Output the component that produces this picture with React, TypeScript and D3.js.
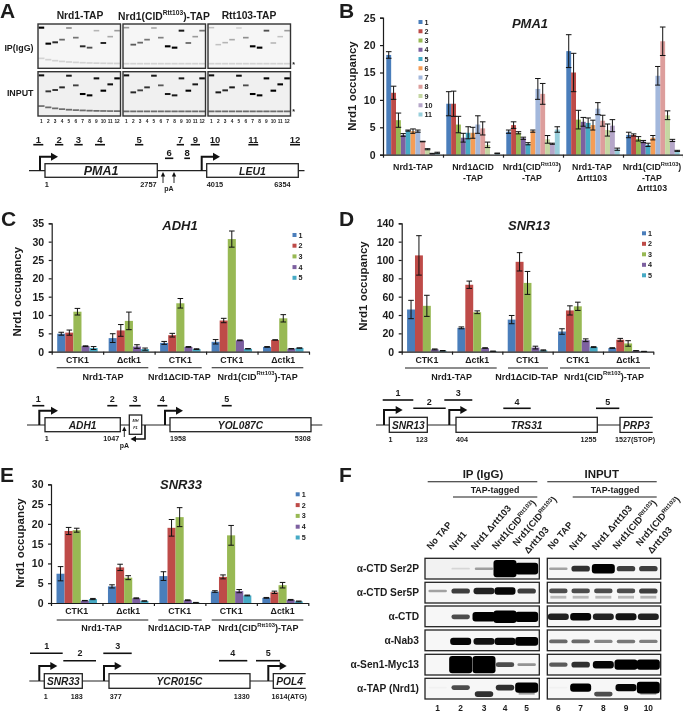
import React, { useEffect, useRef } from "react";
import * as d3 from "d3";

const FONT = "'Liberation Sans', Arial, sans-serif";
const INK = "#1c1c1c";

// bar colours (Excel palette)
const barColors = ["#4a7ebb", "#be4b48", "#98b954", "#7d60a0", "#46aac5", "#f59d56", "#a3b8dc", "#dd9e9c", "#c5d7a2", "#b5a6c9", "#98cfdc"];

// ---- PMA1 ----
const pma1Sites = ["1", "2", "3", "4", "5", "6", "7", "8", "9", "10", "11"];
const pma1Values = [
  [18.2, 11.3, 6.3, 3.6, 4.4, 4.3, 4.3, 2.4, 1.0, 0.2, 0.35],
  [9.3, 9.3, 5.5, 3.1, 4.0, 4.0, 5.5, 4.8, 1.8, 0, 0.25],
  [4.2, 5.4, 4.0, 3.0, 2.0, 4.3, 12.0, 11.1, 2.8, 2.0, 4.6],
  [18.9, 15.0, 6.4, 6.0, 5.8, 5.4, 8.4, 6.2, 4.5, 5.3, 1.0],
  [3.6, 3.6, 2.9, 2.4, 1.8, 3.1, 14.4, 20.7, 7.2, 2.6, 0.7],
];
const pma1Errors = [
  [0.6, 1.2, 1.3, 0.25, 0.1, 0.4, 0.2, 0.05, 0.1, 0.05, 0.1],
  [2.2, 2.3, 1.5, 0.8, 1.1, 1.0, 1.6, 1.2, 0.5, 0, 0.05],
  [0.3, 0.6, 0.2, 0.2, 0.2, 0.2, 1.9, 1.9, 0.7, 0.1, 0.5],
  [3.0, 3.5, 1.7, 0.8, 0.9, 0.9, 1.1, 1.0, 1.1, 1.1, 0.2],
  [0.5, 0.2, 0.4, 0.2, 0.3, 0.4, 1.7, 2.6, 0.8, 0.2, 0.1],
];
const pma1Ticks = [0, 5, 10, 15, 20, 25];

// ---- ADH1 ----
const fiveSites = ["1", "2", "3", "4", "5"];
const ctkLabels = ["CTK1", "\u0394ctk1", "CTK1", "CTK1", "\u0394ctk1"];
const adh1Values = [
  [4.9, 5.2, 10.9, 1.5, 1.0],
  [3.7, 5.8, 8.4, 1.4, 0.7],
  [2.4, 4.5, 13.2, 1.3, 0.7],
  [2.7, 8.5, 30.7, 3.1, 0.8],
  [1.3, 3.2, 9.1, 0.8, 1.0],
];
const adh1Errors = [
  [0.4, 0.7, 0.9, 0.1, 0.4],
  [1.2, 1.6, 2.4, 0.5, 0.3],
  [0.4, 0.5, 1.3, 0.1, 0.1],
  [0.6, 0.6, 2.2, 0.1, 0.05],
  [0.1, 0.05, 1.0, 0.05, 0.05],
];
const adh1Ticks = [0, 5, 10, 15, 20, 25, 30, 35];

// ---- SNR13 ----
const snr13Values = [
  [46, 105, 50, 2.5, 1],
  [26, 73, 43, 4, 0.5],
  [35, 98, 75, 4.5, 1.5],
  [22, 45, 49.5, 12.5, 5],
  [4, 13, 9, 1, 0.3],
];
const snr13Errors = [
  [10, 21.5, 11.5, 0.5, 0.3],
  [1, 4, 1.5, 0.3, 0.1],
  [4.5, 10, 12.5, 1.5, 0.5],
  [3, 5, 4.5, 1.5, 0.5],
  [0.3, 1.5, 3, 0.1, 0.1],
];
const snr13Ticks = [0, 20, 40, 60, 80, 100, 120, 140];

// ---- SNR33 ----
const snr33Values = [
  [7.4, 18.2, 18.4, 0.6, 1.0],
  [4.2, 9.0, 6.4, 1.2, 0.5],
  [6.8, 19.0, 21.7, 0.7, 0.1],
  [2.9, 6.6, 17.1, 3.0, 1.9],
  [1.3, 2.7, 4.5, 0.8, 0.4],
];
const snr33Errors = [
  [1.8, 0.9, 0.5, 0.05, 0.15],
  [0.4, 0.8, 0.5, 0.1, 0.05],
  [1.1, 2.1, 2.4, 0.1, 0.05],
  [0.2, 0.5, 2.5, 0.4, 0.1],
  [0.1, 0.3, 0.7, 0.1, 0.1],
];
const snr33Ticks = [0, 5, 10, 15, 20, 25, 30];

// ---- gels in panel A: band migration per lane and strength per gel ----
const gelLanes = ["1", "2", "3", "4", "5", "6", "7", "8", "9", "10", "11", "12"];
const bandDepth = [11, 59, 55, 47, 12, 41, 67, 71, 20, 57, 38, 20];
const gelTitles = ["Nrd1-TAP", "", "Rtt103-TAP"];
const ipStrength = [
  [1, 0.95, 0.8, 0.55, 0.4, 0.5, 0.8, 0.65, 0.25, 0.8, 0.3, 0.35],
  [0.35, 0.6, 0.55, 0.5, 0.3, 0.45, 1, 1, 0.85, 0.55, 0.35, 0.5],
  [0.2, 0.2, 0.25, 0.3, 0.15, 0.4, 1, 1, 0.65, 0.25, 0.2, 0.35],
];
const inputStrength = [
  [0.9, 0.75, 0.75, 0.8, 0.85, 0.7, 0.95, 0.95, 0.9, 1, 0.9, 0.95],
  [0.9, 0.8, 0.7, 0.75, 0.85, 0.6, 0.85, 0.85, 0.85, 0.95, 0.85, 0.9],
  [0.9, 0.85, 0.8, 0.85, 0.9, 0.65, 0.95, 0.95, 0.95, 1, 0.95, 0.95],
];

// ---- blots in panel F (rows by lane) ----
const blotLabels = ["\u03b1-CTD Ser2P", "\u03b1-CTD Ser5P", "\u03b1-CTD", "\u03b1-Nab3", "\u03b1-Sen1-Myc13", "\u03b1-TAP (Nrd1)"];
const blotIp = [
  [0, 0.1, 0.3, 1.45, 1.15],
  [0.3, 0.65, 0.75, 0.85, 0.65],
  [0, 0.6, 1.0, 1.2, 1.05],
  [0, 0.85, 0.8, 0.85, 0.95],
  [0, 1.45, 1.45, 0.6, 0.35],
  [0.02, 0.6, 0.7, 0.7, 1.05],
];
const blotInput = [
  [0.3, 0.7, 1.0, 0.65, 0.65],
  [0.6, 0.6, 0.6, 0.6, 0.65],
  [0.75, 0.85, 0.75, 0.8, 0.75],
  [0.5, 0.5, 0.4, 0.45, 0.42],
  [0.55, 0.7, 0.85, 1.05, 1.05],
  [0.02, 0.9, 0.6, 0.85, 1.15],
];
const blotCenters = [0.5, 0.42, 0.52, 0.55, 0.5, 0.45];
const blotLanesIp = ["1", "2", "3", "4", "5"];
const blotLanesInput = ["6", "7", "8", "9", "10"];

type Sel = d3.Selection<any, any, any, any>;

function label(g: Sel, x: number, y: number, s: string, size: number, anchor = "middle", extra = "") {
  return g
    .append("text")
    .attr("x", x)
    .attr("y", y)
    .attr("text-anchor", anchor)
    .attr("dominant-baseline", "central")
    .style("font-family", FONT)
    .style("font-weight", "bold")
    .style("font-style", extra)
    .style("font-size", size + "px")
    .style("fill", INK)
    .text(s);
}

// Nrd1(CID^Rtt103) style text with a raised part
function supLabel(t: Sel, before: string, sup: string, after: string, size: number) {
  t.text(null);
  t.append("tspan").text(before);
  t.append("tspan").attr("dy", -size * 0.35).style("font-size", size * 0.65 + "px").text(sup);
  t.append("tspan").attr("dy", size * 0.35).text(after);
}

function barPanel(
  svg: Sel,
  opt: {
    x0: number; x1: number; y0: number; y1: number; max: number;
    ticks: number[]; values: number[][]; errors: number[][]; sites: string[];
    title: string; titleX: number; titleY: number;
    yLabelX: number; yLabelY: number;
    legendX: number; legendY: number; legendStep: number; colLabels?: string[];
  }
) {
  const groupIdx = d3.range(opt.values.length);
  const group = d3.scaleBand<number>().domain(groupIdx).range([opt.x0, opt.x1]);
  const bar = d3
    .scaleBand<string>()
    .domain(opt.sites)
    .range([0, group.bandwidth()])
    .paddingInner(0)
    .paddingOuter(0.68);
  const y = d3.scaleLinear().domain([0, opt.max]).range([opt.y0, opt.y1]);

  const g = svg.append("g");

  opt.values.forEach((vals, gi) => {
    vals.forEach((v, si) => {
      const site = opt.sites[si];
      const cx = group(gi)! + bar(site)! + bar.bandwidth() / 2;
      if (v > 0) {
        g.append("rect")
          .attr("x", group(gi)! + bar(site)!)
          .attr("width", bar.bandwidth())
          .attr("y", y(v))
          .attr("height", y(0) - y(v))
          .attr("fill", barColors[si]);
      }
      const e = opt.errors[gi][si];
      if (v > 0 && e > 0) {
        const capW = Math.min(bar.bandwidth() * 0.72, 2.8);
        g.append("path")
          .attr("d", `M${cx},${y(v + e)}V${y(Math.max(v - e, 0))}M${cx - capW},${y(v + e)}h${capW * 2}M${cx - capW},${y(Math.max(v - e, 0))}h${capW * 2}`)
          .attr("fill", "none")
          .attr("stroke", "#111")
          .attr("stroke-width", 1);
      }
    });
  });

  // y axis
  const yAxis = g
    .append("g")
    .attr("transform", `translate(${opt.x0},0)`)
    .call(d3.axisLeft(y).tickValues(opt.ticks).tickSize(3).tickPadding(4.5));
  yAxis.selectAll("text").style("font-family", FONT).style("font-weight", "bold").style("font-size", "10.5px").style("fill", INK);
  yAxis.selectAll("line,path").style("stroke", INK).style("stroke-width", "1.2");

  // x axis: ticks at group borders
  const borders = d3.scaleLinear().domain([0, opt.values.length]).range([opt.x0, opt.x1]);
  const xAxis = g
    .append("g")
    .attr("transform", `translate(0,${opt.y0})`)
    .call(
      d3.axisBottom(borders)
        .tickValues(d3.range(opt.values.length + 1))
        .tickSize(3)
        .tickSizeOuter(0)
        .tickFormat(() => "")
    );
  xAxis.selectAll("line,path").style("stroke", INK).style("stroke-width", "1.2");

  // group tick labels
  if (opt.colLabels) {
    const labs = opt.colLabels;
    const xLab = g
      .append("g")
      .attr("transform", `translate(0,${opt.y0})`)
      .call(d3.axisBottom(group).tickSize(0).tickPadding(5).tickFormat((d) => labs[d as number]));
    xLab.select(".domain").remove();
    xLab.selectAll("text").style("font-family", FONT).style("font-weight", "bold").style("font-size", "8.8px").style("fill", INK);
  }

  // title
  label(g, opt.titleX, opt.titleY, opt.title, 13, "middle", "italic");

  // y label
  g.append("text")
    .attr("transform", `translate(${opt.yLabelX},${opt.yLabelY}) rotate(-90)`)
    .attr("text-anchor", "middle")
    .attr("dominant-baseline", "central")
    .style("font-family", FONT)
    .style("font-weight", "bold")
    .style("font-size", "11.5px")
    .style("fill", INK)
    .text("Nrd1 occupancy");

  // legend
  opt.sites.forEach((s, i) => {
    const ly = opt.legendY + i * opt.legendStep;
    g.append("rect").attr("x", opt.legendX - 2).attr("y", ly - 2).attr("width", 4).attr("height", 4).attr("fill", barColors[i]);
    label(g, opt.legendX + 4, ly, s, 7.2, "start");
  });
}

function strainLabels(svg: Sel, lines: [number, number][], centers: number[], lineY: number, textY: number) {
  lines.forEach(([a, b]) => {
    svg.append("line").attr("x1", a).attr("x2", b).attr("y1", lineY).attr("y2", lineY).attr("stroke", INK).attr("stroke-width", 1.1);
  });
  label(svg, centers[0], textY, "Nrd1-TAP", 9);
  label(svg, centers[1], textY, "Nrd1\u0394CID-TAP", 9);
  supLabel(label(svg, centers[2], textY, "", 9), "Nrd1(CID", "Rtt103", ")-TAP", 9);
}

// gene diagram pieces
function backbone(g: Sel, x1: number, x2: number, y: number) {
  g.append("line").attr("x1", x1).attr("x2", x2).attr("y1", y).attr("y2", y).attr("stroke", "#222").attr("stroke-width", 1.2);
}
function geneBox(g: Sel, x1: number, x2: number, y1: number, y2: number, name: string, size = 10.2, open = false) {
  if (open) {
    g.append("rect").attr("x", x1).attr("y", y1).attr("width", x2 - x1).attr("height", y2 - y1).attr("fill", "#fff");
    g.append("path").attr("d", `M${x2},${y1}H${x1}V${y2}H${x2}`).attr("fill", "none").attr("stroke", "#222").attr("stroke-width", 1.3);
  } else {
    g.append("rect").attr("x", x1).attr("y", y1).attr("width", x2 - x1).attr("height", y2 - y1).attr("fill", "#fff").attr("stroke", "#222").attr("stroke-width", 1.3);
  }
  if (name) label(g, (x1 + x2) / 2, (y1 + y2) / 2 + 0.3, name, size, "middle", "italic");
}
function promoter(g: Sel, x: number, yBase: number, yTop: number, xEnd: number) {
  g.append("path").attr("d", `M${x},${yBase}V${yTop}H${xEnd - 5}`).attr("fill", "none").attr("stroke", "#111").attr("stroke-width", 2);
  g.append("path").attr("d", `M${xEnd - 7},${yTop - 4}L${xEnd},${yTop}L${xEnd - 7},${yTop + 4}Z`).attr("fill", "#111");
}
function primer(g: Sel, x1: number, x2: number, y: number, name: string, ly: number, lx?: number, size = 9) {
  g.append("line").attr("x1", x1).attr("x2", x2).attr("y1", y).attr("y2", y).attr("stroke", "#111").attr("stroke-width", 1.6);
  label(g, lx ?? (x1 + x2) / 2, ly, name, size);
}
function upArrow(g: Sel, x: number, y1: number, y2: number) {
  g.append("line").attr("x1", x).attr("x2", x).attr("y1", y1).attr("y2", y2 + 3).attr("stroke", "#111").attr("stroke-width", 0.9);
  g.append("path").attr("d", `M${x - 2.2},${y2 + 4.5}L${x},${y2}L${x + 2.2},${y2 + 4.5}Z`).attr("fill", "#111");
}

function App() {
  const svgRef = useRef<SVGSVGElement | null>(null);

  useEffect(() => {
    const svg = d3.select(svgRef.current);
    svg.selectAll("*").remove();
    svg.attr("width", 683).attr("height", 712);

    const defs = svg.append("defs");
    defs.append("filter").attr("id", "soft").attr("x", "-30%").attr("y", "-60%").attr("width", "160%").attr("height", "220%")
      .append("feGaussianBlur").attr("stdDeviation", 0.6);

    // panel letters
    const letters: [string, number, number][] = [["A", 0, 10.5], ["B", 339, 10.5], ["C", 1, 218], ["D", 339, 218], ["E", 0, 474], ["F", 339, 474]];
    letters.forEach(([s, x, y]) => label(svg, x, y, s, 21, "start"));

    // ---------- A: gels ----------
    const gelXs = [38, 123, 208];
    const gelW = 82.5;
    const rows = [
      { top: 24, strength: ipStrength, tailOp: 0.14 },
      { top: 71.7, strength: inputStrength, tailOp: 0.6 },
    ];
    const depth = d3.scaleLinear().domain([0, 133]).range([0, 44.3]);
    gelXs.forEach((gx, gi) => {
      const lane = d3.scalePoint<string>().domain(gelLanes).range([gx + 3.4, gx + gelW - 3.4]);
      rows.forEach((r, ri) => {
        const gg = svg.append("g");
        gg.append("rect").attr("x", gx).attr("y", r.top).attr("width", gelW).attr("height", 44.3).attr("fill", ri === 0 ? "#f6f6f6" : "#f0f0f0");
        const bands = gg.append("g").attr("filter", "url(#soft)");
        gelLanes.forEach((l, i) => {
          const k = r.strength[gi][i];
          const yOff = gi === 0 ? 0 : i === 1 ? 3 : i === 2 ? 1 : 0;
          bands.append("rect")
            .attr("x", lane(l)! - 2.8)
            .attr("width", 5.6)
            .attr("y", r.top + depth(bandDepth[i] + yOff) - 0.7 - k * 0.35)
            .attr("height", 1.4 + k * 0.7)
            .attr("fill", "#000")
            .attr("opacity", Math.min(1, k * 1.05));
          // free primer band at the bottom, slanted on the first gel
          const tail = gi === 0 ? 103 + 16 * (1 - Math.exp(-i / 3.5)) : 119;
          bands.append("rect")
            .attr("x", lane(l)! - 3.1)
            .attr("width", 6.2)
            .attr("y", r.top + depth(tail) - 0.8)
            .attr("height", 1.7)
            .attr("fill", "#111")
            .attr("opacity", r.tailOp);
        });
        gg.append("rect").attr("x", gx).attr("y", r.top).attr("width", gelW).attr("height", 44.3).attr("fill", "none").attr("stroke", "#333").attr("stroke-width", 1.4);
      });
      gelLanes.forEach((l) => label(svg, lane(l)!, 121.3, l, 4.8));
      if (gelTitles[gi]) label(svg, gi === 0 ? 80 : 249, 15.5, gelTitles[gi], 10.3);
    });
    supLabel(label(svg, 164, 15.5, "", 10.3), "Nrd1(CID", "Rtt103", ")-TAP", 10.3);
    label(svg, 33.5, 47.5, "IP(IgG)", 8.9, "end");
    label(svg, 33.5, 92.5, "INPUT", 8.9, "end");
    label(svg, 293.5, 64, "*", 7);
    label(svg, 293.5, 111.5, "*", 7);

    // A: diagram
    const da = svg.append("g");
    backbone(da, 29, 304.5, 170.7);
    geneBox(da, 45, 157.3, 163.7, 177.3, "PMA1", 12.5);
    geneBox(da, 206.7, 298.3, 163.7, 177.3, "LEU1", 10.5);
    promoter(da, 40, 170.7, 156.7, 58);
    promoter(da, 201.7, 170.7, 156.7, 220);
    upArrow(da, 163, 183, 172);
    upArrow(da, 174, 183, 172);
    label(da, 169, 188.5, "pA", 7);
    label(da, 46.7, 184, "1", 7.4);
    label(da, 156.7, 184, "2757", 7.4, "end");
    label(da, 206.7, 184, "4015", 7.4, "start");
    label(da, 290.7, 184, "6354", 7.4, "end");
    const aTop: [number, number, string][] = [[33.3, 43.3, "1"], [55, 63.3, "2"], [74.3, 82.7, "3"], [95, 105, "4"], [135, 143.3, "5"], [176.7, 184, "7"], [190.7, 200, "9"], [210.7, 219.3, "10"], [248.3, 258.3, "11"], [290, 300, "12"]];
    aTop.forEach(([a, b, n]) => primer(da, a, b, 144.7, n, 139.3, undefined, 9.5));
    primer(da, 165, 173.3, 158.3, "6", 152.3, undefined, 9.5);
    primer(da, 184.3, 190, 158.3, "8", 152.3, undefined, 9.5);

    // ---------- B: PMA1 ----------
    barPanel(svg, {
      x0: 383, x1: 683, y0: 154.7, y1: 17.7, max: 25, ticks: pma1Ticks,
      values: pma1Values, errors: pma1Errors, sites: pma1Sites,
      title: "PMA1", titleX: 530, titleY: 23.5, yLabelX: 351.7, yLabelY: 86,
      legendX: 420.5, legendY: 22, legendStep: 9.25,
    });
    label(svg, 413, 167, "Nrd1-TAP", 8.8);
    label(svg, 473, 167, "Nrd1\u0394CID", 8.8);
    label(svg, 473, 177.5, "-TAP", 8.8);
    supLabel(label(svg, 532, 167, "", 8.8), "Nrd1(CID", "Rtt103", ")", 8.8);
    label(svg, 532, 177.5, "-TAP", 8.8);
    label(svg, 592, 167, "Nrd1-TAP", 8.8);
    label(svg, 592, 177.5, "\u0394rtt103", 8.8);
    supLabel(label(svg, 652, 167, "", 8.8), "Nrd1(CID", "Rtt103", ")", 8.8);
    label(svg, 652, 177.5, "-TAP", 8.8);
    label(svg, 652, 188, "\u0394rtt103", 8.8);

    // ---------- C: ADH1 ----------
    barPanel(svg, {
      x0: 51.7, x1: 309, y0: 351.7, y1: 223.3, max: 35, ticks: adh1Ticks,
      values: adh1Values, errors: adh1Errors, sites: fiveSites,
      title: "ADH1", titleX: 180, titleY: 225.7, yLabelX: 16.7, yLabelY: 291.7,
      legendX: 294.5, legendY: 235, legendStep: 10.7, colLabels: ctkLabels,
    });
    strainLabels(svg, [[56.7, 148.3], [158.3, 201.7], [211.7, 303.3]], [103, 179.3, 257.7], 367.7, 376.5);
    const dc = svg.append("g");
    backbone(dc, 27, 322.3, 425);
    geneBox(dc, 45, 120.3, 417.7, 431.7, "ADH1");
    geneBox(dc, 170, 311, 417.7, 431.7, "YOL087C");
    geneBox(dc, 129.3, 141.7, 415, 434.3, "", 4);
    label(dc, 135.5, 421, "MH", 3.8, "middle", "italic");
    label(dc, 135.5, 428, "F1", 3.8, "middle", "italic");
    dc.append("path").attr("d", "M145,425V439H135").attr("fill", "none").attr("stroke", "#111").attr("stroke-width", 1.6);
    dc.append("path").attr("d", "M136,436L130.5,439L136,442Z").attr("fill", "#111");
    promoter(dc, 39.3, 425, 410.7, 58);
    promoter(dc, 165, 425, 410.7, 183);
    upArrow(dc, 124.3, 437, 426.5);
    label(dc, 124.3, 445.7, "pA", 7);
    label(dc, 46.7, 438, "1", 7.2);
    label(dc, 119.3, 438, "1047", 7.2, "end");
    label(dc, 170, 438, "1958", 7.2, "start");
    label(dc, 310.7, 438, "5308", 7.2, "end");
    const cTop: [number, number, string][] = [[32.3, 44.3, "1"], [107.3, 117.3, "2"], [129.3, 140.7, "3"], [157.3, 167.3, "4"], [221.7, 231.7, "5"]];
    cTop.forEach(([a, b, n]) => primer(dc, a, b, 405.7, n, 399));

    // ---------- D: SNR13 ----------
    barPanel(svg, {
      x0: 401.7, x1: 653.3, y0: 351.7, y1: 223.3, max: 140, ticks: snr13Ticks,
      values: snr13Values, errors: snr13Errors, sites: fiveSites,
      title: "SNR13", titleX: 529, titleY: 225, yLabelX: 363, yLabelY: 286,
      legendX: 644, legendY: 233.3, legendStep: 10.5, colLabels: ctkLabels,
    });
    strainLabels(svg, [[405, 496.7], [508, 548], [560, 650]], [451.7, 526.7, 604], 368, 376.5);
    const dd = svg.append("g");
    backbone(dd, 376, 620, 425);
    geneBox(dd, 389.3, 427.3, 417.3, 432.3, "SNR13");
    geneBox(dd, 456, 597.3, 417.3, 432.3, "TRS31");
    geneBox(dd, 620, 652.7, 417.3, 432.3, "PRP3", 10.2, true);
    promoter(dd, 384, 425, 410, 402.7);
    promoter(dd, 449.3, 425, 410, 467.3);
    label(dd, 390.5, 439, "1", 7.2);
    label(dd, 421.7, 439, "123", 7.2);
    label(dd, 462, 439, "404", 7.2);
    label(dd, 588.5, 439, "1255", 7.2);
    label(dd, 635, 439, "1527(STOP)", 7.2);
    primer(dd, 382.7, 413.3, 400, "1", 393);
    primer(dd, 413.3, 445.7, 408.3, "2", 402.3, 429.3);
    primer(dd, 444.3, 472.3, 400, "3", 393);
    primer(dd, 503.3, 530.7, 408.3, "4", 402.3);
    primer(dd, 596, 619.3, 408.3, "5", 402.3, 607.7);

    // ---------- E: SNR33 ----------
    barPanel(svg, {
      x0: 51, x1: 308.3, y0: 603, y1: 484.3, max: 30, ticks: snr33Ticks,
      values: snr33Values, errors: snr33Errors, sites: fiveSites,
      title: "SNR33", titleX: 181, titleY: 484.3, yLabelX: 20, yLabelY: 543,
      legendX: 297.7, legendY: 494.3, legendStep: 10.8, colLabels: ctkLabels,
    });
    strainLabels(svg, [[56.7, 148.3], [158.3, 201.7], [211.7, 303.3]], [101.7, 179.3, 258.3], 620, 628);
    const de = svg.append("g");
    backbone(de, 29.3, 273.3, 681);
    geneBox(de, 44.3, 82.3, 673.7, 688.3, "SNR33");
    geneBox(de, 109, 250, 673.7, 688.3, "YCR015C");
    geneBox(de, 273.3, 305.7, 673.7, 688.3, "POL4", 10.2, true);
    promoter(de, 39.3, 681, 666, 57.3);
    promoter(de, 104, 681, 666, 121.7);
    promoter(de, 268.3, 681, 666, 286.7);
    label(de, 45.7, 696.7, "1", 7.2);
    label(de, 76.7, 696.7, "183", 7.2);
    label(de, 115.7, 696.7, "377", 7.2);
    label(de, 241.7, 696.7, "1330", 7.2);
    label(de, 289.3, 696.7, "1614(ATG)", 7.2);
    primer(de, 30, 62.7, 653.3, "1", 645.7, 46.7);
    primer(de, 63.3, 96, 660.7, "2", 653, 80);
    primer(de, 103.3, 131.7, 653.3, "3", 645.7, 117.7);
    primer(de, 219, 247.3, 660.7, "4", 653, 232.7);
    primer(de, 256, 280, 660.7, "5", 653, 268.3);

    // ---------- F: blots ----------
    const rowTops = [558.3, 582.3, 606, 630, 654.3, 678.3];
    const rowH = 20.7;
    const columns = [
      { x0: 425, x1: 539.3, centers: [293, 362, 432, 495, 560], values: blotIp, lanes: blotLanesIp },
      { x0: 547.3, x1: 660.7, centers: [655, 722, 790, 858, 925], values: blotInput, lanes: blotLanesInput },
    ];
    columns.forEach((col, ci) => {
      const laneX = d3.scaleOrdinal<string, number>().domain(col.lanes).range(col.centers.map((c) => 340 + c / 3));
      rowTops.forEach((top, ri) => {
        const clipId = `blot-${ci}-${ri}`;
        defs.append("clipPath").attr("id", clipId).append("rect").attr("x", col.x0).attr("y", top).attr("width", col.x1 - col.x0).attr("height", rowH);
        const gg = svg.append("g");
        gg.append("rect").attr("x", col.x0).attr("y", top).attr("width", col.x1 - col.x0).attr("height", rowH).attr("fill", ri === 0 && ci === 0 ? "#f2f2f2" : "#f7f7f7");
        const bands = gg.append("g").attr("clip-path", `url(#${clipId})`).append("g").attr("filter", "url(#soft)");
        col.lanes.forEach((l, li) => {
          const k = col.values[ri][li];
          if (k <= 0) return;
          const isShort = ri === 5 && li === 2; // lane 3 / 8 runs lower
          const cy = top + rowH * (isShort ? 0.76 : blotCenters[ri]);
          const h = 1.5 + 6.5 * k * k + 1.5 * k;
          const w = k > 0.9 ? 23 : k > 0.7 ? 21 : 18.5;
          bands.append("rect")
            .attr("x", laneX(l) - w / 2)
            .attr("width", w)
            .attr("y", cy - h / 2)
            .attr("height", h)
            .attr("rx", Math.min(h / 2, 3))
            .attr("fill", "#000")
            .attr("opacity", Math.min(1, k * 1.15));
          // second faint band under Ser5P (INPUT only) and the heavy TAP lane
          if ((ri === 1 && ci === 1) || (ri === 5 && li === 4)) {
            bands.append("rect")
              .attr("x", laneX(l) - 8)
              .attr("width", 16)
              .attr("y", top + rowH * 0.72 - 1.4)
              .attr("height", 2.8)
              .attr("fill", "#000")
              .attr("opacity", 0.28 * k + 0.08);
          }
        });
        gg.append("rect").attr("x", col.x0).attr("y", top).attr("width", col.x1 - col.x0).attr("height", rowH).attr("fill", "none").attr("stroke", "#222").attr("stroke-width", 1.3);
        if (ci === 0) label(svg, 419, top + rowH / 2, blotLabels[ri], 10.2, "end");
      });
      // lane numbers
      col.lanes.forEach((l) => label(svg, laneX(l), 708, l, 8.4));
      // rotated sample labels
      const rot = (lx: number, ly: number) => svg.append("text")
        .attr("transform", `translate(${340 + lx / 3},${400 + ly / 3}) rotate(-49)`)
        .style("font-family", FONT).style("font-weight", "bold").style("font-size", "9.3px").style("fill", INK);
      const base = ci === 0 ? [272, 340, 405, 468, 530, 565] : [635, 700, 768, 830, 900, 935];
      rot(base[0], 450).text("No TAP");
      rot(base[1], 452).text("Nrd1");
      rot(base[2], 452).text("Nrd1 \u0394rtt103");
      supLabel(rot(base[3], 450), "Nrd1(CID", "Rtt103", ")", 9.3);
      supLabel(rot(base[4], 440), "Nrd1(CID", "Rtt103", ")", 9.3);
      rot(base[5], 463).text("\u0394rtt103");
    });
    const fHead: [number, number, number, string, number, number, number][] = [
      [427.7, 537.3, 483, "IP (IgG)", 453, 537.3, 495],
      [547.3, 656.7, 601.7, "INPUT", 572.7, 656.7, 615],
    ];
    fHead.forEach(([a, b, c, name, ta, tb, tc]) => {
      label(svg, c, 474, name, 11.5);
      svg.append("line").attr("x1", a).attr("x2", b).attr("y1", 481.7).attr("y2", 481.7).attr("stroke", INK).attr("stroke-width", 1.1);
      label(svg, tc, 489.7, "TAP-tagged", 8.8);
      svg.append("line").attr("x1", ta).attr("x2", tb).attr("y1", 497).attr("y2", 497).attr("stroke", INK).attr("stroke-width", 1.1);
    });
  }, []);

  return (
    <div style={{ position: "absolute", left: 0, top: 0, background: "#fff" }}>
      <svg ref={svgRef} style={{ display: "block", filter: "blur(0.3px)" }}></svg>
    </div>
  );
}

export default App;
